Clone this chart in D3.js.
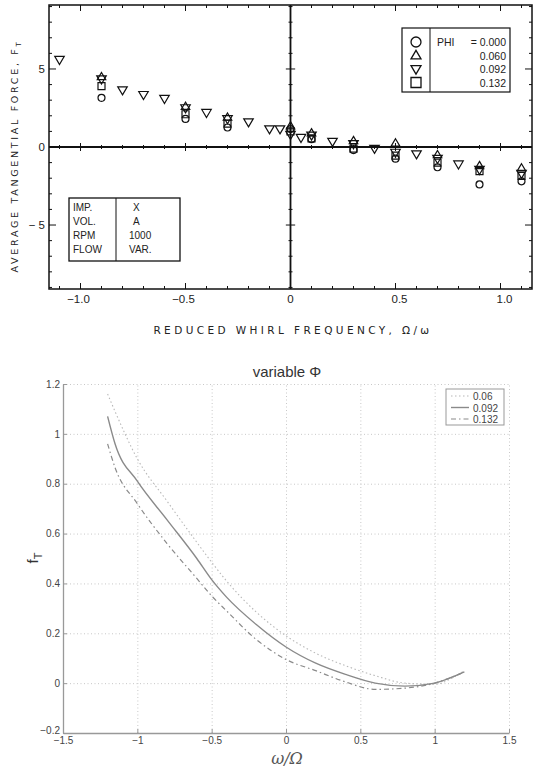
<!DOCTYPE html>
<html>
<head>
<meta charset="utf-8">
<script src="https://cdn.jsdelivr.net/npm/d3@7"></script>
<style>
  body { margin: 0; background: #fff; }
  svg { display: block; }
</style>
</head>
<body>
<div id="chart"></div>
<script>
// ---- top panel data (measured, PHI series) ----
const phiLabels = ["0.000", "0.060", "0.092", "0.132"];
const phiSymbols = ["circle", "up", "down", "square"];

const clusterX = [-0.9, -0.5, -0.3, 0, 0.1, 0.3, 0.5, 0.7, 0.9, 1.1];
const phi000 = [3.15, 1.8, 1.25, 1.15, 0.5, -0.2, -0.75, -1.3, -2.4, -2.2];
const phi060 = [4.5, 2.6, 1.9, 1.35, 0.9, 0.4, 0.25, -0.5, -1.2, -1.35];
const phi132 = [3.9, 2.1, 1.5, 1.0, 0.55, -0.1, -0.55, -1.0, -1.55, -1.85];

const phi092X = [-1.1, -0.9, -0.8, -0.7, -0.6, -0.5, -0.4, -0.3, -0.2, -0.1, -0.05, 0, 0.05, 0.1, 0.2, 0.3, 0.4, 0.5, 0.6, 0.7, 0.8, 0.9, 1.1];
const phi092 = [5.6, 4.35, 3.65, 3.35, 3.1, 2.5, 2.2, 1.8, 1.6, 1.15, 1.15, 0.8, 0.6, 0.75, 0.35, 0.2, -0.1, -0.35, -0.45, -0.75, -1.1, -1.45, -1.7];

const infoKeys = ["IMP.", "VOL.", "RPM", "FLOW"];
const infoVals = ["X", "A", "1000", "VAR."];

// ---- bottom panel data (curves) ----
const curveX = [-1.2, -1.15, -1.0, -0.8, -0.6, -0.5, -0.4, -0.2, 0, 0.2, 0.4, 0.6, 0.8, 1.0, 1.1, 1.2];
const f006 = [1.16, 1.09, 0.90, 0.73, 0.565, 0.485, 0.41, 0.285, 0.19, 0.12, 0.07, 0.03, 0.0, -0.005, 0.015, 0.05];
const f092 = [1.07, 0.96, 0.81, 0.655, 0.5, 0.415, 0.345, 0.235, 0.145, 0.08, 0.035, 0.0, -0.012, 0.0, 0.02, 0.045];
const f132 = [0.96, 0.865, 0.72, 0.56, 0.42, 0.35, 0.29, 0.175, 0.095, 0.05, 0.005, -0.025, -0.02, 0.0, 0.02, 0.045];
const curveLabels = ["0.06", "0.092", "0.132"];

const W = 533, H = 767;
const svg = d3.select("#chart").append("svg").attr("width", W).attr("height", H);

// ================= TOP PANEL =================
const tx = d3.scaleLinear().domain([-1.15, 1.15]).range([49, 532]);
const ty = d3.scaleLinear().domain([-9.1, 9.1]).range([289, 5]);
const topG = svg.append("g");

// frame
topG.append("rect")
    .attr("x", tx(-1.15)).attr("y", ty(9.1))
    .attr("width", tx(1.15) - tx(-1.15)).attr("height", ty(-9.1) - ty(9.1))
    .attr("fill", "none").attr("stroke", "#111").attr("stroke-width", 1.5);

// inner axes through zero
topG.append("line").attr("x1", tx(-1.15)).attr("x2", tx(1.15)).attr("y1", ty(0)).attr("y2", ty(0))
    .attr("stroke", "#111").attr("stroke-width", 2);
topG.append("line").attr("x1", tx(0)).attr("x2", tx(0)).attr("y1", ty(9.1)).attr("y2", ty(-9.1))
    .attr("stroke", "#111").attr("stroke-width", 1.8);

const xTicksTop = d3.range(-11, 12).map(d => d / 10);
const yTicksTop = d3.range(-9, 10);
const isMajX = d => Math.abs(Math.round(d * 10) % 5) === 0;
const isMajY = d => d % 5 === 0;

// ticks on frame and inner axes
const tk = topG.append("g").attr("stroke", "#111").attr("stroke-width", 1);
xTicksTop.forEach(d => {
    const L = isMajX(d) ? 6 : 3;
    tk.append("line").attr("x1", tx(d)).attr("x2", tx(d)).attr("y1", ty(9.1)).attr("y2", ty(9.1) + L);
    tk.append("line").attr("x1", tx(d)).attr("x2", tx(d)).attr("y1", ty(-9.1)).attr("y2", ty(-9.1) - L);
    tk.append("line").attr("x1", tx(d)).attr("x2", tx(d)).attr("y1", ty(0) - L / 1.5).attr("y2", ty(0) + L / 1.5);
});
yTicksTop.forEach(d => {
    const L = isMajY(d) ? 7 : 3;
    tk.append("line").attr("x1", tx(-1.15)).attr("x2", tx(-1.15) + L).attr("y1", ty(d)).attr("y2", ty(d));
    tk.append("line").attr("x1", tx(1.15)).attr("x2", tx(1.15) - L).attr("y1", ty(d)).attr("y2", ty(d));
    tk.append("line").attr("x1", tx(0) - L / 1.5).attr("x2", tx(0) + L / 1.5).attr("y1", ty(d)).attr("y2", ty(d));
});

// tick labels
const topFont = "Liberation Sans, Arial, sans-serif";
[-1, -0.5, 0, 0.5, 1].forEach(d => {
    topG.append("text").attr("x", tx(d) - (d < 0 ? 2 : 0) + (d > 0 ? 4 : 0)).attr("y", 303)
        .attr("text-anchor", "middle").attr("font-family", topFont).attr("font-size", 11.5)
        .attr("fill", "#222")
        .text(d === 0 ? "0" : (d < 0 ? "\u2212" : "") + Math.abs(d).toFixed(1));
});
[5, 0, -5].forEach(d => {
    topG.append("text").attr("x", 45).attr("y", ty(d) + 4)
        .attr("text-anchor", "end").attr("font-family", topFont).attr("font-size", 11.5)
        .attr("fill", "#222")
        .text(d < 0 ? "\u2212 5" : d);
});

// axis titles
const ttlFont = "DejaVu Sans, sans-serif";
topG.append("text").attr("x", 293).attr("y", 334).attr("text-anchor", "middle")
    .attr("font-family", ttlFont).attr("font-size", 10.5).attr("letter-spacing", 3.4).attr("fill", "#222")
    .text("REDUCED WHIRL FREQUENCY, \u03A9/\u03C9");
const yt = topG.append("text").attr("transform", "translate(18,156) rotate(-90)").attr("text-anchor", "middle")
    .attr("font-family", ttlFont).attr("font-size", 9.5).attr("letter-spacing", 2.7).attr("fill", "#222");
yt.append("tspan").text("AVERAGE TANGENTIAL FORCE, F");
yt.append("tspan").attr("dy", 3).attr("font-size", 7).text("T");

// marker shapes
const symPath = (type, s) => {
    if (type === "circle") return d3.symbol(d3.symbolCircle, s * s * 0.78)();
    if (type === "square") return `M${-s / 2},${-s / 2}h${s}v${s}h${-s}Z`;
    const h = s * 0.85;
    if (type === "up") return `M0,${-h * 0.6}L${s / 2},${h * 0.4}L${-s / 2},${h * 0.4}Z`;
    return `M0,${h * 0.6}L${s / 2},${-h * 0.4}L${-s / 2},${-h * 0.4}Z`;
};
const markSize = { circle: 7, square: 7, up: 8.5, down: 9.5 };

const pts = [];
clusterX.forEach((x, i) => {
    pts.push({ x, y: phi000[i], t: "circle" });
    pts.push({ x, y: phi060[i], t: "up" });
    pts.push({ x, y: phi132[i], t: "square" });
});
phi092X.forEach((x, i) => pts.push({ x, y: phi092[i], t: "down" }));

topG.append("g").selectAll("path").data(pts).enter().append("path")
    .attr("transform", d => `translate(${tx(d.x)},${ty(d.y)})`)
    .attr("d", d => symPath(d.t, markSize[d.t]))
    .attr("fill", "none").attr("stroke", "#111").attr("stroke-width", 1.2);

// legend box
const lg = topG.append("g");
lg.append("rect").attr("x", 402).attr("y", 28).attr("width", 108).attr("height", 64)
    .attr("fill", "#fff").attr("stroke", "#111").attr("stroke-width", 1.2);
lg.append("line").attr("x1", 430).attr("x2", 430).attr("y1", 28).attr("y2", 92).attr("stroke", "#111");
phiSymbols.forEach((s, i) => {
    lg.append("path").attr("transform", `translate(416,${42 + i * 13.5})`)
        .attr("d", symPath(s, 10)).attr("fill", "none").attr("stroke", "#111").attr("stroke-width", 1.3);
    lg.append("text").attr("x", 506).attr("y", 46 + i * 13.5).attr("text-anchor", "end")
        .attr("font-family", topFont).attr("font-size", 10.5).attr("fill", "#222")
        .text((i === 0 ? "= " : "") + phiLabels[i]);
});
lg.append("text").attr("x", 437).attr("y", 46).attr("font-family", topFont).attr("font-size", 10.5)
    .attr("fill", "#222").text("PHI");

// info box
const ib = topG.append("g");
ib.append("rect").attr("x", 69).attr("y", 198).attr("width", 111).attr("height", 63)
    .attr("fill", "#fff").attr("stroke", "#111").attr("stroke-width", 1.3);
ib.append("line").attr("x1", 116).attr("x2", 116).attr("y1", 198).attr("y2", 261).attr("stroke", "#111");
infoKeys.forEach((k, i) => {
    ib.append("text").attr("x", 73).attr("y", 211 + i * 14).attr("font-family", topFont)
        .attr("font-size", 10).attr("fill", "#222").text(k);
    ib.append("text").attr("x", i < 2 ? 133 : 129).attr("y", 211 + i * 14).attr("font-family", topFont)
        .attr("font-size", 10).attr("fill", "#222").text(infoVals[i]);
});

// ================= BOTTOM PANEL =================
const bx = d3.scaleLinear().domain([-1.5, 1.5]).range([63, 509]);
const by = d3.scaleLinear().domain([-0.2, 1.2]).range([733, 384]);
const bot = svg.append("g");
const botFont = "Liberation Sans, Arial, sans-serif";

// dotted grid
bot.append("g").attr("transform", "translate(0,733)")
    .call(d3.axisBottom(bx).ticks(6).tickSize(-(733 - 384)).tickFormat(""))
    .call(g => g.select(".domain").remove())
    .call(g => g.selectAll("line").attr("stroke", "#c8c8c8").attr("stroke-dasharray", "1,2.5"));
bot.append("g").attr("transform", "translate(63,0)")
    .call(d3.axisLeft(by).ticks(7).tickSize(-(509 - 63)).tickFormat(""))
    .call(g => g.select(".domain").remove())
    .call(g => g.selectAll("line").attr("stroke", "#c8c8c8").attr("stroke-dasharray", "1,2.5"));

// axes
bot.append("g").attr("transform", "translate(0,733)")
    .call(d3.axisBottom(bx).ticks(6).tickSizeInner(-4).tickSizeOuter(0).tickPadding(4).tickFormat(d3.format("")))
    .call(g => g.select(".domain").attr("stroke", "#999").attr("stroke-width", 1.3))
    .call(g => g.selectAll("line").attr("stroke", "#999"))
    .call(g => g.selectAll("text").attr("font-family", botFont).attr("font-size", 10).attr("fill", "#444"));
bot.append("g").attr("transform", "translate(63,0)")
    .call(d3.axisLeft(by).ticks(7).tickSizeInner(-4).tickSizeOuter(0).tickPadding(3).tickFormat(d3.format("")))
    .call(g => g.select(".domain").attr("stroke", "#999").attr("stroke-width", 1.3))
    .call(g => g.selectAll("line").attr("stroke", "#999"))
    .call(g => g.selectAll("text").attr("font-family", botFont).attr("font-size", 10).attr("fill", "#444"))
    .call(g => g.selectAll(".tick text").filter(d => d < 0).attr("dy", "0.05em"));

// curves
const line = d3.line().x(d => bx(d[0])).y(d => by(d[1])).curve(d3.curveMonotoneX);
const curveStyles = [
    { data: f006, color: "#b8b8b8", dash: "1.5,2.5", w: 1.1 },
    { data: f092, color: "#8a8a8a", dash: null, w: 1.4 },
    { data: f132, color: "#8a8a8a", dash: "5,3,1.5,3", w: 1.2 },
];
curveStyles.forEach(c => {
    bot.append("path").datum(curveX.map((x, i) => [x, c.data[i]]))
        .attr("d", line).attr("fill", "none").attr("stroke", c.color)
        .attr("stroke-width", c.w).attr("stroke-dasharray", c.dash);
});

// legend
const bl = bot.append("g");
bl.append("rect").attr("x", 446).attr("y", 389).attr("width", 58).attr("height", 36)
    .attr("fill", "#fff").attr("stroke", "#999").attr("stroke-width", 1);
curveStyles.forEach((c, i) => {
    bl.append("line").attr("x1", 451).attr("x2", 469).attr("y1", 396 + i * 11.5).attr("y2", 396 + i * 11.5)
        .attr("stroke", c.color).attr("stroke-width", c.w).attr("stroke-dasharray", c.dash);
    bl.append("text").attr("x", 473).attr("y", 400 + i * 11.5).attr("font-family", botFont)
        .attr("font-size", 10).attr("fill", "#444").text(curveLabels[i]);
});

// title and axis labels
bot.append("text").attr("x", 287).attr("y", 377).attr("text-anchor", "middle")
    .attr("font-family", botFont).attr("font-size", 15).attr("fill", "#333").text("variable \u03A6");
const fy = bot.append("text").attr("transform", "translate(38,558) rotate(-90)").attr("text-anchor", "middle")
    .attr("font-family", botFont).attr("font-size", 15).attr("fill", "#333");
fy.append("tspan").text("f");
fy.append("tspan").attr("dy", 4).attr("font-size", 11).text("T");
bot.append("text").attr("x", 287).attr("y", 764).attr("text-anchor", "middle")
    .attr("font-family", "DejaVu Serif, serif").attr("font-style", "italic").attr("font-size", 16)
    .attr("fill", "#555").text("\u03C9/\u03A9");
</script>
</body>
</html>
